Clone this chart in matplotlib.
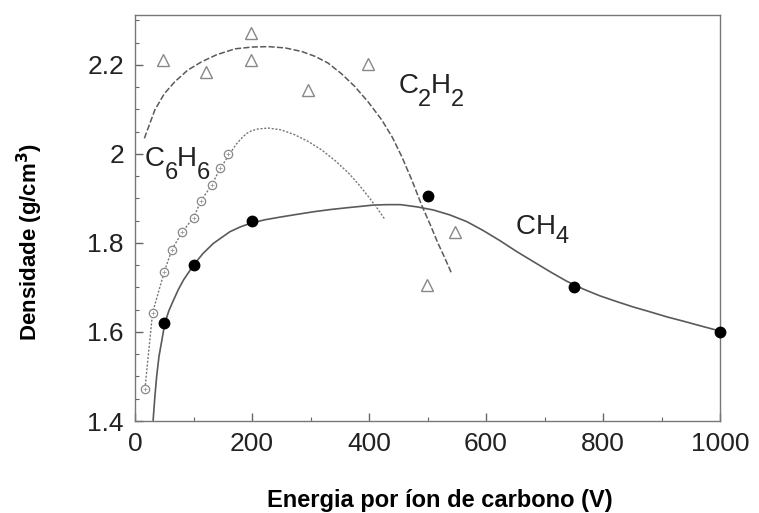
import matplotlib
matplotlib.use("Agg")
import matplotlib.pyplot as plt
from matplotlib.ticker import MultipleLocator
from matplotlib.transforms import IdentityTransform

# ---- data ----
# CH4 (filled circles)
ch4_x = [50, 100, 200, 500, 750, 1000]
ch4_y = [1.62, 1.75, 1.85, 1.905, 1.70, 1.60]
# CH4 fit curve (solid)
ch4_fit_x = [31, 34, 37, 41, 46, 51, 58, 66, 74, 83, 100, 116, 134, 162, 180, 197, 222, 248,
             276, 305, 334, 362, 385, 407, 430, 454, 482, 510, 538, 567, 595, 624, 652, 681,
             710, 738, 767, 795, 824, 852, 881, 909, 938, 966, 1000]
ch4_fit_y = [1.402, 1.455, 1.500, 1.545, 1.582, 1.620, 1.648, 1.672, 1.695, 1.717, 1.750,
             1.776, 1.799, 1.825, 1.836, 1.844, 1.852, 1.858, 1.864, 1.870, 1.875, 1.879,
             1.882, 1.885, 1.886, 1.886, 1.881, 1.874, 1.863, 1.848, 1.828, 1.805, 1.781,
             1.758, 1.735, 1.714, 1.696, 1.681, 1.668, 1.656, 1.645, 1.634, 1.624, 1.614,
             1.602]

# C2H2 (open triangles)
c2h2_x = [48, 122, 198, 198, 296, 399, 499, 547]
c2h2_y = [2.212, 2.183, 2.272, 2.212, 2.144, 2.202, 1.706, 1.825]
# C2H2 fit curve (dashed)
c2h2_fit_x = [16, 34, 50, 68, 90, 114, 140, 171, 200, 228, 257, 285, 308, 330, 353, 376, 399,
              422, 440, 456, 473, 490, 505, 518, 530, 541]
c2h2_fit_y = [2.035, 2.099, 2.135, 2.162, 2.188, 2.207, 2.223, 2.236, 2.240, 2.241, 2.238,
              2.230, 2.219, 2.204, 2.180, 2.151, 2.116, 2.076, 2.037, 1.994, 1.942, 1.885,
              1.840, 1.799, 1.765, 1.732]

# C6H6 (open circles)
c6h6_x = [17, 30, 50, 63, 81, 100, 113, 131, 146, 159]
c6h6_y = [1.472, 1.643, 1.735, 1.785, 1.825, 1.857, 1.895, 1.930, 1.968, 2.000]
# C6H6 fit curve (dotted)
c6h6_fit_x = [17, 30, 50, 63, 81, 100, 113, 131, 146, 162, 172, 182, 190, 199, 210, 228, 250,
              273, 296, 319, 342, 365, 382, 399, 413, 427]
c6h6_fit_y = [1.472, 1.643, 1.735, 1.785, 1.825, 1.857, 1.895, 1.930, 1.968, 2.000, 2.020,
              2.035, 2.045, 2.052, 2.056, 2.058, 2.054, 2.043, 2.028, 2.009, 1.985, 1.957,
              1.932, 1.904, 1.880, 1.853]

x_ticks = [0, 200, 400, 600, 800, 1000]
x_ticklabels = ["0", "200", "400", "600", "800", "1000"]
y_ticks = [1.4, 1.6, 1.8, 2.0, 2.2]
y_ticklabels = ["1.4", "1.6", "1.8", "2", "2.2"]

# series labels: (pieces, is_subscript), anchor = left/baseline in data coords
label_parts = {
    "C2H2": [("C", False), ("2", True), ("H", False), ("2", True)],
    "C6H6": [("C", False), ("6", True), ("H", False), ("6", True)],
    "CH4": [("C", False), ("H", False), ("4", True)],
}
label_pos = {"C2H2": (450, 2.136), "C6H6": (17, 1.972), "CH4": (650, 1.821)}
label_drop = {"C2H2": 13, "C6H6": 13, "CH4": 9}

plt.rcParams['font.family'] = ['Liberation Sans', 'DejaVu Sans']

W, H = 759, 513
fig = plt.figure(figsize=(W / 100, H / 100), dpi=100)
ax = fig.add_axes([135/W, 1-421/H, (720-135)/W, (421-15)/H])

line_col = "#5a5a5a"
ax.plot(ch4_fit_x, ch4_fit_y, "-", color=line_col, lw=1.2, zorder=2)
ax.plot(c2h2_fit_x, c2h2_fit_y, color=line_col, lw=1.1, dashes=(4, 1.5), zorder=2)
ax.plot(c6h6_fit_x, c6h6_fit_y, color="#777777", lw=1.0, dashes=(1.5, 1.2), zorder=2)

ax.plot(ch4_x, ch4_y, "o", color="black", ms=7.5, zorder=4, clip_on=False)
ax.plot(c2h2_x, c2h2_y, "^", mfc="white", mec="#888888", mew=1.0, ms=9, ls="none", zorder=3)
ax.plot(c6h6_x, c6h6_y, "o", mfc="white", mec="#888888", mew=0.9, ms=6, ls="none", zorder=3)
ax.plot(c6h6_x, c6h6_y, "+", color="#999999", mew=0.6, ms=2.5, ls="none", zorder=3)

ax.set_xlim(0, 1000)
ax.set_ylim(1.4, 2.312)
ax.set_xticks(x_ticks)
ax.set_xticklabels(x_ticklabels)
ax.set_yticks(y_ticks)
ax.set_yticklabels(y_ticklabels)
ax.xaxis.set_minor_locator(MultipleLocator(100))
ax.yaxis.set_minor_locator(MultipleLocator(0.05))
ax.tick_params(which="both", direction="in", colors="#666666", labelcolor="#222222")
ax.tick_params(which="major", length=6, width=1, labelsize=19, pad=8)
ax.tick_params(which="minor", length=3, width=0.8)
for s in ax.spines.values():
    s.set_color("#777777")
    s.set_linewidth(1.0)

fig.text(440/W, 1-507/H, "Energia por íon de carbono (V)", fontsize=17, fontweight="bold",
         ha="center", va="baseline")
fig.text(30/W, 1-242/H, "Densidade (g/cm$^\\mathbf{3}$)", fontsize=16, fontweight="bold",
         rotation=90, ha="center", va="center")

# draw chemical formula labels piece by piece
fig.canvas.draw()
renderer = fig.canvas.get_renderer()
main_fs, sub_fs = 20, 17
for key, parts in label_parts.items():
    px, py = ax.transData.transform(label_pos[key])
    for txt, sub in parts:
        yy = py - label_drop[key] if sub else py
        t = ax.text(px, yy, txt, fontsize=sub_fs if sub else main_fs, color="#222222",
                    ha="left", va="baseline", transform=IdentityTransform(), zorder=5)
        bb = t.get_window_extent(renderer=renderer)
        px = bb.x1 - (1 if sub else 0)

fig.savefig("out.png", dpi=100)
